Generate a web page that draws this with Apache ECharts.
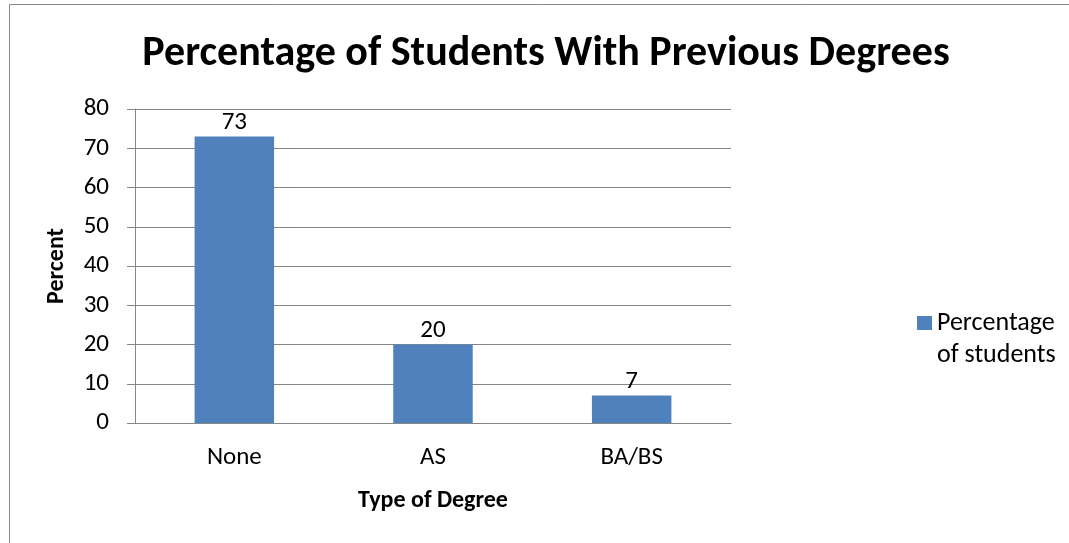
<!DOCTYPE html>
<html>
<head>
<meta charset="utf-8">
<script src="https://cdn.jsdelivr.net/npm/echarts@6/dist/echarts.min.js"></script>
<style>
  html, body { margin: 0; padding: 0; background: #fff; }
  #chart { width: 1069px; height: 543px; }
</style>
</head>
<body>
<div id="chart"></div>
<script>
const categories = ['None', 'AS', 'BA/BS']
const values = [73, 20, 7]
const seriesName = 'Percentage\nof students'

const font = 'Carlito, Calibri, "Open Sans", sans-serif'
const chart = echarts.init(document.getElementById('chart'))

const option = {
  animation: false,
  title: {
    text: 'Percentage of Students With Previous Degrees',
    left: 541,
    textAlign: 'center',
    top: 28,
    textStyle: {fontFamily: font, fontSize: 42, fontWeight: 'bold', color: '#000'},
  },
  graphic: [{
    type: 'rect',
    shape: {x: 9.5, y: 4.5, width: 1080, height: 560},
    style: {fill: 'none', stroke: '#868686', lineWidth: 1},
    silent: true,
  }],
  legend: {
    left: 912,
    top: 270,
    orient: 'vertical',
    icon: 'rect',
    itemWidth: 15,
    itemHeight: 14,
    // blank line on top so the first real line sits level with the swatch
    formatter: name => ' \n' + name,
    textStyle: {fontFamily: font, fontSize: 26, color: '#000', lineHeight: 32},
  },
  grid: {left: 135, right: 338, top: 109, bottom: 120},
  xAxis: {
    type: 'category',
    data: categories,
    name: 'Type of Degree',
    nameLocation: 'middle',
    nameGap: 66,
    nameTextStyle: {fontFamily: font, fontSize: 24, fontWeight: 'bold', color: '#000'},
    axisLine: {lineStyle: {color: '#868686'}},
    axisTick: {length: 7, lineStyle: {color: '#868686'}},
    axisLabel: {fontFamily: font, fontSize: 25, color: '#000', margin: 22},
  },
  yAxis: {
    type: 'value',
    min: 0,
    max: 80,
    interval: 10,
    name: 'Percent',
    nameLocation: 'middle',
    nameGap: 66,
    nameTextStyle: {fontFamily: font, fontSize: 24, fontWeight: 'bold', color: '#000'},
    axisLine: {show: true, lineStyle: {color: '#868686'}},
    axisTick: {show: true, length: 8, lineStyle: {color: '#868686'}},
    axisLabel: {fontFamily: font, fontSize: 25, color: '#000', margin: 26},
    splitLine: {lineStyle: {color: '#868686'}},
  },
  series: [{
    name: seriesName,
    type: 'bar',
    data: values,
    barWidth: '40%',
    itemStyle: {color: '#4f81bd'},
    label: {
      show: true,
      position: 'top',
      distance: 1,
      fontFamily: font,
      fontSize: 25,
      color: '#000',
    },
  }],
}

chart.setOption(option)
</script>
</body>
</html>
